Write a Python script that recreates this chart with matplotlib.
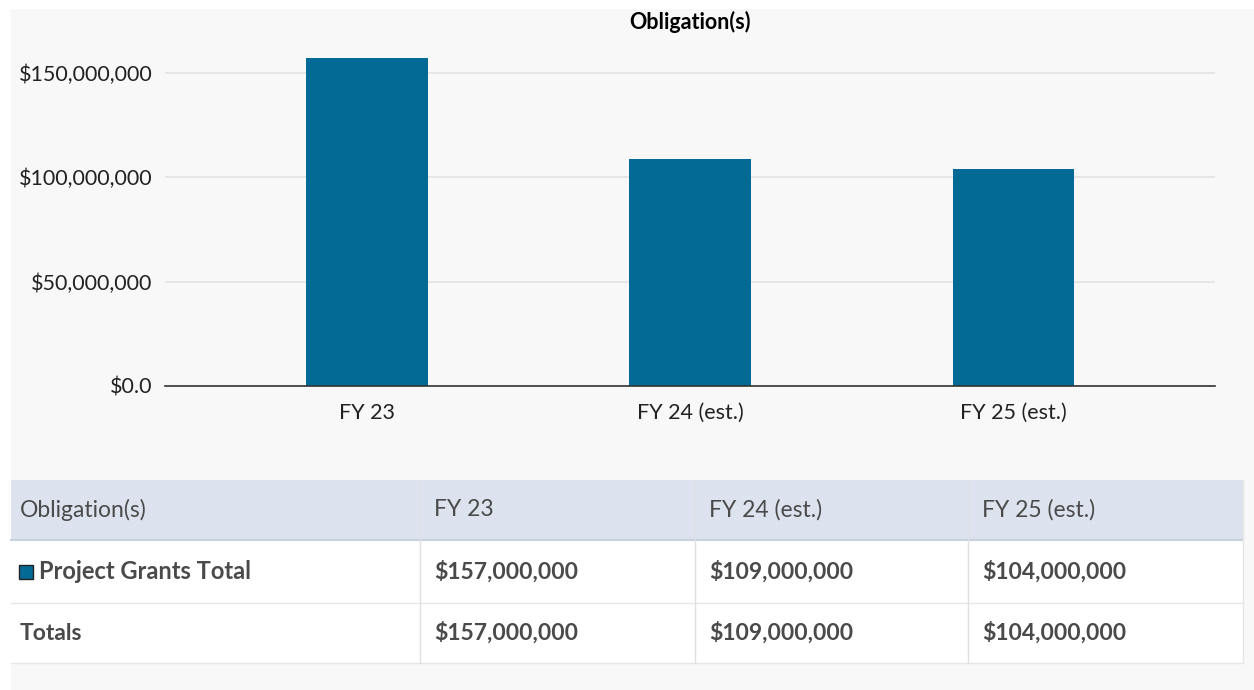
import matplotlib
matplotlib.use('Agg')
import matplotlib.pyplot as plt
from matplotlib.patches import Rectangle
from matplotlib.ticker import FuncFormatter

# ---------------- data ----------------
categories = ['FY 23', 'FY 24 (est.)', 'FY 25 (est.)']
obligations = [157000000, 109000000, 104000000]
row_label = 'Project Grants Total'
totals_label = 'Totals'
table_title = 'Obligation(s)'

BAR = '#036a96'
W, H = 1254, 690

plt.rcParams['font.family'] = ['Lato', 'DejaVu Sans']

fig = plt.figure(figsize=(W / 100, H / 100), dpi=100)
fig.patch.set_facecolor('white')


def fx(px):
    return px / W


def fy(py):
    return 1 - py / H


# gray panel behind everything
fig.patches.append(Rectangle((fx(11), 0), 1 - fx(11), fy(9), transform=fig.transFigure,
                             facecolor='#f8f8f8', edgecolor='none', zorder=-5))

# ---------------- chart ----------------
ax_l, ax_r, ax_t, ax_b = 165, 1215, 40, 386
ax = fig.add_axes([fx(ax_l), fy(ax_b), fx(ax_r - ax_l), (ax_b - ax_t) / H])
ax.set_zorder(2)
ax.set_facecolor('none')
x = list(range(len(categories)))
ax.bar(x, obligations, width=0.375, color=BAR, zorder=3)
ax.set_xlim(-0.625, 2.625)
ax.set_ylim(0, 150e6 * (ax_b - ax_t) / 313)
ax.set_yticks([0, 50e6, 100e6, 150e6])
ax.yaxis.set_major_formatter(FuncFormatter(lambda v, p: '$0.0' if v == 0 else '${:,.0f}'.format(v)))
ax.set_xticks(x)
ax.set_xticklabels(categories)
ax.tick_params(axis='both', length=0, labelsize=15.5, labelcolor='#222222')
ax.tick_params(axis='y', pad=9)
ax.tick_params(axis='x', pad=12)
ax.grid(axis='y', color='#e3e3e3', linewidth=1.2, zorder=0)
for s in ['top', 'right', 'left']:
    ax.spines[s].set_visible(False)
ax.spines['bottom'].set_color('#333333')
ax.spines['bottom'].set_linewidth(1.2)
ax.spines['bottom'].set_zorder(4)
fig.text(fx(690), fy(22), table_title, ha='center', va='center', fontsize=15.5,
         fontweight='bold', color='black')

# ---------------- table ----------------
t_l, t_r = 11, 1243
col_x = [11, 420, 695, 968, 1243]
rows_y = [480, 540, 603, 663]
fig.patches.append(Rectangle((fx(t_l), fy(rows_y[1])), fx(t_r - t_l), (rows_y[1] - rows_y[0]) / H,
                             transform=fig.transFigure, facecolor='#dce3ee', edgecolor='none', zorder=1))
fig.patches.append(Rectangle((fx(t_l), fy(rows_y[3])), fx(t_r - t_l), (rows_y[3] - rows_y[1]) / H,
                             transform=fig.transFigure, facecolor='white', edgecolor='none', zorder=1))
# horizontal lines
for yy, c, lw in [(rows_y[1], '#c9d1dd', 1.5), (rows_y[2], '#e6e6e6', 1), (rows_y[3], '#e6e6e6', 1)]:
    fig.add_artist(plt.Line2D([fx(t_l), fx(t_r)], [fy(yy), fy(yy)], transform=fig.transFigure,
                              color=c, linewidth=lw, zorder=2))
for xx in col_x[1:4]:
    fig.add_artist(plt.Line2D([fx(xx), fx(xx)], [fy(rows_y[0]), fy(rows_y[3])],
                              transform=fig.transFigure, color='#dde0e4', linewidth=1, zorder=2))
fig.add_artist(plt.Line2D([fx(t_r), fx(t_r)], [fy(rows_y[0]), fy(rows_y[3])],
                          transform=fig.transFigure, color='#e6e6e6', linewidth=1, zorder=2))

txt = '#4a4a4a'
fs = 16.5
hy = (rows_y[0] + rows_y[1]) / 2
r1 = (rows_y[1] + rows_y[2]) / 2
r2 = (rows_y[2] + rows_y[3]) / 2
fig.text(fx(20), fy(hy), table_title, ha='left', va='center', fontsize=fs, color=txt)
for i, cat in enumerate(categories):
    fig.text(fx(col_x[i + 1] + 14), fy(hy), cat, ha='left', va='center', fontsize=fs, color=txt)
    val = '${:,.0f}'.format(obligations[i])
    fig.text(fx(col_x[i + 1] + 14), fy(r1), val, ha='left', va='center', fontsize=fs,
             fontweight='bold', color=txt)
    fig.text(fx(col_x[i + 1] + 14), fy(r2), val, ha='left', va='center', fontsize=fs,
             fontweight='bold', color=txt)
fig.patches.append(Rectangle((fx(19), fy(r1 + 7)), fx(14), 14 / H, transform=fig.transFigure,
                             facecolor=BAR, edgecolor='#222222', linewidth=1, zorder=3))
fig.text(fx(39), fy(r1), row_label, ha='left', va='center', fontsize=17, fontweight='bold', color=txt)
fig.text(fx(20), fy(r2), totals_label, ha='left', va='center', fontsize=fs, fontweight='bold', color=txt)

fig.savefig('out.png', dpi=100, facecolor=fig.get_facecolor())
